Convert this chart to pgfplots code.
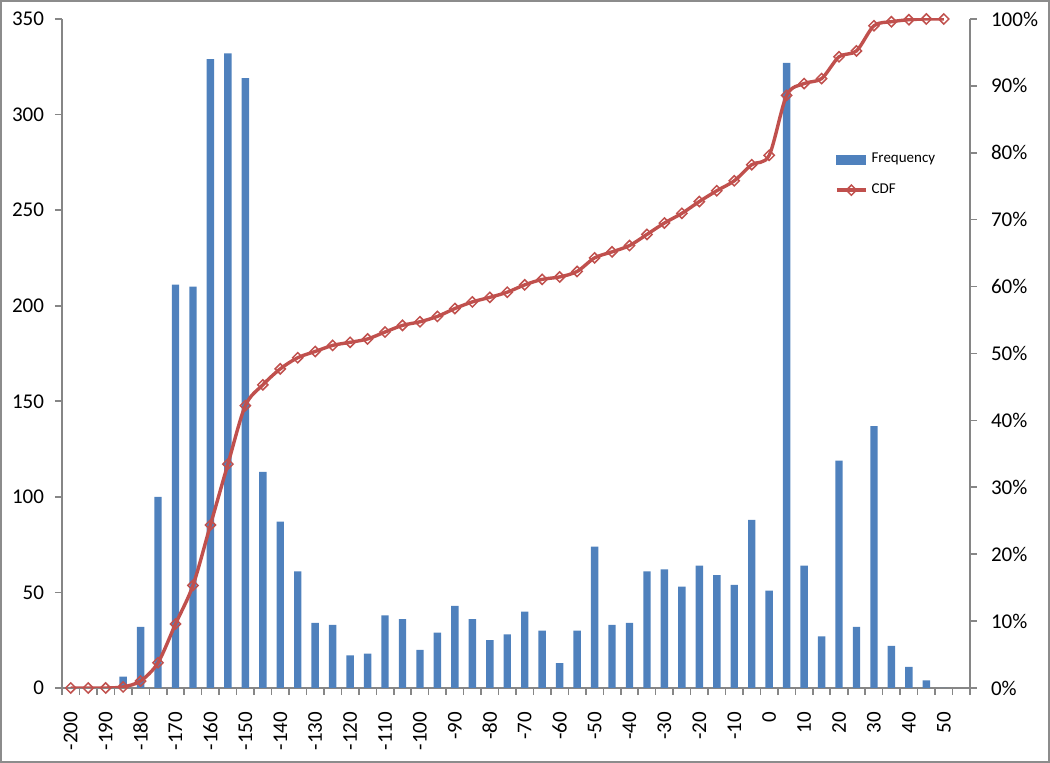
\documentclass[border=0pt]{standalone}
\usepackage{fontspec}
\setmainfont{Carlito}
\usepackage{pgfplots}
\usepackage{pgfplotstable}
\pgfplotsset{compat=1.18}
\definecolor{barblue}{HTML}{4F81BD}
\definecolor{cdfred}{HTML}{C0504D}
\definecolor{axgray}{HTML}{868686}
\definecolor{framegray}{HTML}{8C8C8C}

\pgfplotstableread{
x f c
0 0 0
1 0 0
2 0 0
3 6 0.16
4 32 1.04
5 100 3.78
6 211 9.57
7 210 15.33
8 329 24.36
9 332 33.46
10 319 42.21
11 113 45.31
12 87 47.70
13 61 49.37
14 34 50.30
15 33 51.21
16 17 51.67
17 18 52.17
18 38 53.21
19 36 54.20
20 20 54.74
21 29 55.54
22 43 56.72
23 36 57.71
24 25 58.39
25 28 59.16
26 40 60.26
27 30 61.08
28 13 61.44
29 30 62.26
30 74 64.29
31 33 65.19
32 34 66.13
33 61 67.80
34 62 69.50
35 53 70.95
36 64 72.71
37 59 74.33
38 54 75.81
39 88 78.22
40 51 79.62
41 327 88.59
42 64 90.35
43 27 91.09
44 119 94.35
45 32 95.23
46 137 98.99
47 22 99.59
48 11 99.89
49 4 100
50 0 100
}\datatable

\pgfplotsset{
  common/.style={
    at={(0,0)}, anchor=south west,
    scale only axis, width=454pt, height=334.5pt,
    xmin=-0.5, xmax=51.5,
    /pgf/number format/assume math mode=true,
    axis line style={axgray, line width=0.8pt},
    tick align=outside,
    major tick length=3.5pt,
    minor tick length=3.5pt,
    tick style={axgray, line width=0.8pt},
    ticklabel style={font=\fontsize{10.5}{12}\selectfont},
  },
  cdflegend/.style={
    legend image code/.code={\draw[##1, mark repeat=2, mark phase=2] plot coordinates {(0pt,0pt) (7.25pt,0pt) (14.5pt,0pt)};}
  },
  barlegend/.style={
    legend image code/.code={\fill[barblue] (0pt,-2.25pt) rectangle (14.5pt,2.25pt);}
  },
}

\begin{document}
\begin{tikzpicture}[x=1pt,y=1pt]
\useasboundingbox (-31,-37.5) rectangle (494,344);
\draw[framegray, line width=1.2pt] (-30.4,-36.9) rectangle (493.4,343.4);

\begin{axis}[common,
  ymin=0, ymax=350,
  axis x line*=bottom, axis y line*=left,
  ytick={0,50,...,350},
  xtick={0,2,...,50},
  xticklabels={-200,-190,-180,-170,-160,-150,-140,-130,-120,-110,-100,-90,-80,-70,-60,-50,-40,-30,-20,-10,0,10,20,30,40,50},
  minor xtick={-0.5,0.5,...,51.5},
  major x tick style={draw=none},
  xticklabel style={rotate=90, anchor=east},
  xticklabel shift=5pt,
  yticklabel shift=2pt,
]
\addplot[ybar, fill=barblue, draw=none, bar width=3.7pt] table[x=x,y=f]{\datatable};
\end{axis}

\begin{axis}[common,
  ymin=0, ymax=100,
  axis x line=none, axis y line*=right,
  ytick={0,10,...,100},
  yticklabel={\pgfmathprintnumber{\tick}\%},
  yticklabel shift=3.5pt,
  legend style={draw=none, fill=none, at={(0.8445,0.812)}, anchor=north west,
    font=\fontsize{7.5}{9}\selectfont, row sep=5pt},
  legend cell align=left,
]
\addlegendimage{barlegend}
\addlegendentry{Frequency}
\addplot[cdfred, line width=1.7pt, smooth,
  mark=square, mark size=1.8pt,
  mark options={rotate=45, line width=0.75pt, solid, fill=none},
  cdflegend
] table[x=x,y=c]{\datatable};
\addlegendentry{CDF}
\end{axis}
\end{tikzpicture}
\end{document}
